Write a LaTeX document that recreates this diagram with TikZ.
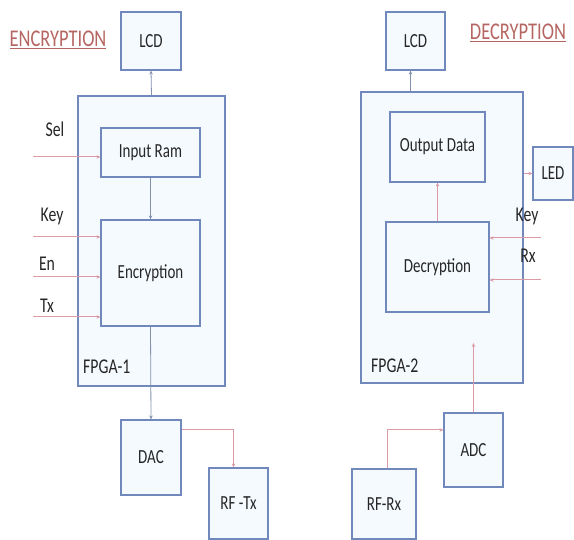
\documentclass[tikz,border=0pt]{standalone}
\usepackage{fontspec}
\setmainfont[FakeStretch=0.75]{Carlito}
\newfontfamily\headfont[FakeStretch=0.77]{Carlito}
\usetikzlibrary{arrows.meta,calc}
\definecolor{boxline}{HTML}{7088BC}
\definecolor{boxfill}{HTML}{F5FAFE}
\definecolor{pinkline}{HTML}{DC9AA4}
\definecolor{grayline}{HTML}{8491AE}
\definecolor{headred}{HTML}{B56662}
\definecolor{txt}{HTML}{262626}
\tikzset{
  blk/.style={draw=boxline, fill=boxfill, line width=1.1pt, inner sep=0pt, text=txt,
    font=\fontsize{20}{23}\selectfont},
  lbl/.style={text=txt, inner sep=0pt, font=\fontsize{21}{24}\selectfont},
  head/.style={text=headred, inner sep=1pt, font=\headfont\fontsize{24}{27}\selectfont},
  garr/.style={draw=grayline, line width=0.8pt, -{Stealth[length=4pt,width=3.5pt]}},
  parr/.style={draw=pinkline, line width=1pt, -{Stealth[length=4pt,width=3.5pt]}},
}
\begin{document}
\begin{tikzpicture}[x=1pt,y=-1pt]
\useasboundingbox (0,0) rectangle (574,540);
% left side
\node[blk, minimum width=147pt, minimum height=290pt] (fpga1) at (151.5,241) {};
\node[lbl, anchor=west] (fpga1l) at (83,367) {FPGA-1};
\node[blk, minimum width=60pt, minimum height=58pt] (lcd1) at (151,41) {LCD};
\node[blk, minimum width=99pt, minimum height=49pt] (inram) at (150.5,152.5) {Input Ram};
\node[blk, minimum width=99pt, minimum height=106pt] (enc) at (150.5,273) {Encryption};
\node[blk, minimum width=60pt, minimum height=75pt] (dac) at (151,457.5) {DAC};
\node[blk, minimum width=59pt, minimum height=71pt] (rftx) at (238.5,503.5) {RF -Tx};
\node[head] (enchead) at (58,40) {\underline{ENCRYPTION}};
\node[lbl] (sell) at (55,129) {Sel};
\node[lbl] (keyl) at (52,216) {Key};
\node[lbl] (enl) at (47,264) {En};
\node[lbl] (txl) at (47,306) {Tx};
\coordinate (sel) at (33,157);
\coordinate (key) at (33,237);
\coordinate (en) at (33,277);
\coordinate (tx) at (33,317);
\draw[parr] (sel) -- (sel -| inram.west);
\draw[parr] (key) -- (key -| enc.west);
\draw[parr] (en) -- (en -| enc.west);
\draw[parr] (tx) -- (tx -| enc.west);
\draw[garr] (fpga1.north) -- (lcd1.south);
\draw[garr] (inram.south) -- (enc.north);
\draw[garr] (enc.south) -- (dac.north);
\draw[parr] ([yshift=-10pt]dac.north east) -| ([xshift=-5pt]rftx.north);
% right side
\node[blk, minimum width=162pt, minimum height=291pt] (fpga2) at (442,237.5) {};
\node[lbl, anchor=west] (fpga2l) at (371,366) {FPGA-2};
\node[blk, minimum width=59pt, minimum height=58pt] (lcd2) at (415.5,41) {LCD};
\node[blk, minimum width=95pt, minimum height=70pt] (outd) at (437.5,147) {Output Data};
\node[blk, minimum width=103pt, minimum height=90pt] (dec) at (437.5,267) {Decryption};
\node[blk, minimum width=40pt, minimum height=53pt] (led) at (553,173.5) {LED};
\node[blk, minimum width=59pt, minimum height=74pt] (adc) at (473.5,450) {ADC};
\node[blk, minimum width=64pt, minimum height=70pt] (rfrx) at (384,504) {RF-Rx};
\node[head] (dechead) at (518,33) {\underline{DECRYPTION}};
\node[lbl] (key2l) at (527,216) {Key};
\node[lbl] (rxl) at (528,256) {Rx};
\coordinate (key2) at (541,238);
\coordinate (rx2) at (541,280);
\coordinate (adcin) at (473.5,343);
\draw[garr] ([xshift=-5pt]lcd2.south |- fpga2.north) -- ([xshift=-5pt]lcd2.south);
\draw[parr] (dec.north) -- (outd.south);
\draw[parr] (fpga2.east |- led.west) -- (led.west);
\draw[parr] (key2) -- (key2 -| dec.east);
\draw[parr] (rx2) -- (rx2 -| dec.east);
\draw[parr] (adc.north) -- (adcin);
\draw[parr] ([xshift=3pt]rfrx.north) |- ([yshift=20pt]adc.west);
\end{tikzpicture}
\end{document}
